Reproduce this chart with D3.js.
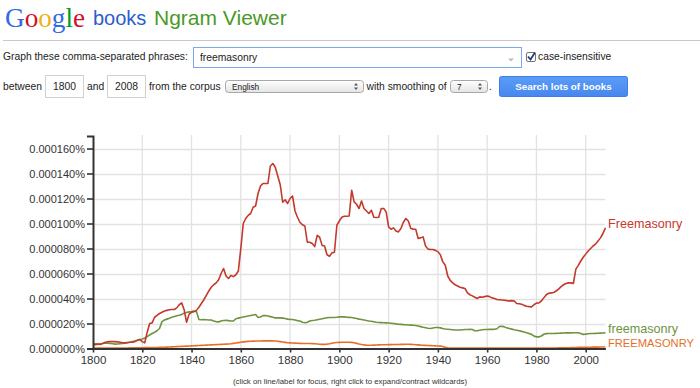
<!DOCTYPE html>
<html><head><meta charset="utf-8">
<script src="https://cdn.jsdelivr.net/npm/d3@7"></script>
<style>
body{margin:0;background:#fff}
svg{display:block;font-family:Arial,"Liberation Sans",Helvetica,sans-serif}
</style></head>
<body><svg id="c" width="700" height="388"></svg>
<script>
// ---------- DATA ----------
const years = d3.range(1800, 2009);            // 1800..2008
const xTickYears = d3.range(1800, 2001, 20);
const yTicks = [0, 20, 40, 60, 80, 100, 120, 140, 160]; // millionths of a percent
const seriesNames = ["Freemasonry", "freemasonry", "FREEMASONRY"];
// values in millionths of a percent (1 = 0.000001%)
const freemasonryCap = [
 3,3,3.5,3.5,4,5,5.3,5.5,5.5,5.5,
 5.3,5,4.6,4.5,4.8,5,5,5.5,6.5,7.2,
 5.5,4.5,13,20,20.5,25,26.5,28,29,30,
 30.5,31,31.2,31.2,32.5,35,36.5,31,21,27.5,
 29,29.5,30.5,33,36,39,42.5,46,49,51,
 52.5,55,60,64,58,56,58.5,57.5,59,62,
 80,100,104,106.5,108,113,114,124,130,132,
 132,132,146,148,145,138,131,117,119,116,
 120,122,110,105,101,99,98,85,85,84,
 81.5,90.5,89,82.5,82,75,73.8,76.5,77,98.6,
 102,105,105.8,105.8,106,126.6,117.3,115.4,112,118,
 112,110,108,110.6,105,104.8,105,112,112,109.3,
 97.3,95.4,96.5,94,93.3,96,101,104,102,96,
 95.5,95.4,88,88.5,89.3,82,79.5,79.2,79.2,78.5,
 77.5,75,69.3,66.6,58,54.5,52.5,51,50,49,
 48.5,48,44.5,43,42.1,41,40,41.3,41,41.5,
 42,41.5,40.5,40,39.2,39,38.8,38.6,38.3,38.1,
 38.3,38,36,35.8,35.4,34.5,33.8,33.5,33.3,35,
 36.3,36.5,38,40.5,43,44.2,44.5,44.8,46,47.5,
 49.5,51,52,52.5,52.5,52,63.5,66.5,70,73,
 75.5,78,80,82,83.5,86,88.5,92,96.5
];
const freemasonryLower = [
 4,3.8,3.5,3.3,4.2,4.4,4.2,4,3.8,3.5,
 3.6,3.8,4,4.3,4.6,5,5.5,6,6.6,7.2,
 7.6,8.3,9.5,10.8,12,13,14.2,16,21.5,22.8,
 23.5,24.2,25,25.6,26.2,26.6,27.2,28.3,28.8,29.3,
 29.5,30,29.5,23.2,23,23.2,23,22.8,22.8,22,
 21.5,21.3,22,22.4,22.6,22.3,22,22,23.8,24.3,
 24.8,25.2,25.6,26,26.4,26.8,27.2,24.8,25.2,26.3,
 26.4,26,25.5,25,24.5,24.5,24.5,24.3,24,23.5,
 23.3,23.2,22.8,22.3,22,21,20.6,21,22,22.4,
 22.6,23,23.4,23.8,24.2,24.6,24.8,24.8,24.8,25,
 25.3,25.4,25.3,25,24.9,24.8,24.4,24,23.5,23.2,
 22.8,22.4,22,21.8,21.4,21,20.8,20.7,20.6,20.5,
 20.4,20.2,20,19.7,19.4,19.3,19.1,19,18.8,18.7,
 18.6,18.4,18,17.5,17,16.6,16.2,16,16.4,16.8,
 16.8,16.5,16,15.6,15.4,15.2,15,14.8,14.8,14.8,
 15,15.2,15.2,15.4,15.2,14.2,14.2,14.6,15,15.2,
 15.2,15.3,15.3,15.4,15.8,17.6,17.8,17.3,16.5,16,
 15.5,15,14.6,14.2,13.7,13.2,12.6,12,11.3,10,
 9.3,9.3,10,11.4,11.9,12,12,12,12.1,12.2,
 12.3,12.4,12.5,12.5,12.5,12.6,12.6,12.6,12,11.3,
 11.5,11.8,12,12,12.1,12.2,12.3,12.4,12.5
];
const freemasonryUpper = [
 0.3,0.3,0.3,0.3,0.3,0.3,0.3,0.3,0.3,0.3,
 0.3,0.3,0.4,0.4,0.4,0.5,0.5,0.5,0.6,0.6,
 0.6,0.7,0.7,0.7,0.8,0.8,0.8,0.9,1,1,
 1.1,1.2,1.3,1.4,1.5,1.6,1.7,1.8,1.9,2,
 2.1,2.2,2.3,2.4,2.5,2.6,2.7,2.8,2.9,3,
 3.1,3.2,3.3,3.4,3.5,3.6,3.8,4.1,4.4,4.7,
 5,5.3,5.5,5.7,5.8,5.9,6,6,6,6.1,
 6.1,6.1,6.1,6.1,6,5.8,5.5,5.2,4.9,4.6,
 4.5,4.4,4.3,4.2,4.1,4,4,4,4,3.9,
 3.8,3.6,3.4,3.3,3.3,3.5,3.8,4.2,4.6,4.8,
 4.9,5,5,5,5,4.9,4.6,4.1,3.6,3.2,
 2.9,2.7,2.6,2.6,2.7,2.8,2.9,3,3,3,
 3.1,3.1,3.2,3.2,3.2,3.3,3.3,3.4,3.4,3.3,
 3.2,3,2.9,2.7,2.6,2.5,2.4,2.3,2.2,2.1,
 2,1.9,1.6,0.9,0.5,0.4,0.3,0.3,0.3,0.3,
 0.3,0.3,0.3,0.3,0.3,0.3,0.3,0.3,0.3,0.3,
 0.3,0.3,0.3,0.3,0.3,0.3,0.3,0.3,0.3,0.3,
 0.3,0.3,0.3,0.3,0.3,0.3,0.3,0.3,0.3,0.3,
 0.3,0.3,0.3,0.3,0.3,0.4,0.4,0.4,0.4,0.5,
 0.5,0.5,0.6,0.6,0.7,0.8,0.8,0.9,0.9,1,
 1,1,1,1.1,1.1,1.1,1.2,1.2,1.2
];
const seriesValues = [freemasonryCap, freemasonryLower, freemasonryUpper];
const seriesColors = ["#c4392b", "#6e9440", "#e56f2a"];
seriesValues.forEach((a,i)=>{ if(a.length!==years.length) throw new Error("len "+i+" "+a.length); });

// ---------- HEADER / FORM ----------
const svg = d3.select("#c");
const logoLetters = [["G","#3369e8"],["o","#d50f25"],["o","#eeb211"],["g","#3369e8"],["l","#009925"],["e","#d50f25"]];
const logo = svg.append("text").attr("x",5).attr("y",27)
  .attr("font-family","'Liberation Serif','DejaVu Serif',serif").attr("font-size",28)
  .attr("textLength",80).attr("lengthAdjust","spacingAndGlyphs");
logoLetters.forEach(([c,col])=>logo.append("tspan").attr("fill",col).text(c));
svg.append("text").attr("x",93).attr("y",25).attr("font-size",20).attr("fill","#2b5dcd").text("books");
svg.append("text").attr("x",154).attr("y",25).attr("font-size",21).attr("fill","#4a9a27").text("Ngram Viewer");
svg.append("line").attr("x1",3).attr("x2",700).attr("y1",40.5).attr("y2",40.5).attr("stroke","#c8c8c8").attr("stroke-width",1.2);

const fs = 10.3;
function txt(x,y,s,opt={}){
  const t = svg.append("text").attr("x",x).attr("y",y).attr("font-size",opt.size||fs).attr("fill",opt.fill||"#222").text(s);
  if(opt.anchor) t.attr("text-anchor",opt.anchor);
  if(opt.weight) t.attr("font-weight",opt.weight);
  return t;
}
txt(3,60,"Graph these comma-separated phrases:");
svg.append("rect").attr("x",193.5).attr("y",47.5).attr("width",328).attr("height",20).attr("fill","#fff").attr("stroke","#7aa7ee").attr("stroke-width",1);
txt(200,61,"freemasonry");
svg.append("path").attr("d","M508,58.5h6l-3,3z").attr("fill","#bbb");
svg.append("rect").attr("x",526.5).attr("y",52.5).attr("width",9).attr("height",9).attr("rx",1.5).attr("fill","#fff").attr("stroke","#777");
svg.append("path").attr("d","M528,56.5l2.5,3l4.5,-7").attr("fill","none").attr("stroke","#1d3f78").attr("stroke-width",1.8);
txt(538,60,"case-insensitive");

txt(3,90,"between");
svg.append("rect").attr("x",45.5).attr("y",75.5).attr("width",38).attr("height",22).attr("fill","#fff").attr("stroke","#d0d0d0");
txt(64.5,90,"1800",{anchor:"middle"});
txt(87,90,"and");
svg.append("rect").attr("x",107.5).attr("y",75.5).attr("width",38).attr("height",22).attr("fill","#fff").attr("stroke","#d0d0d0");
txt(126.5,90,"2008",{anchor:"middle"});
txt(149,90,"from the corpus");
const grad = svg.append("defs").append("linearGradient").attr("id","sel").attr("x1",0).attr("x2",0).attr("y1",0).attr("y2",1);
grad.append("stop").attr("offset",0).attr("stop-color","#ffffff");
grad.append("stop").attr("offset",1).attr("stop-color","#e4e4e4");
const bgrad = svg.select("defs").append("linearGradient").attr("id","btn").attr("x1",0).attr("x2",0).attr("y1",0).attr("y2",1);
bgrad.append("stop").attr("offset",0).attr("stop-color","#5b9cf8");
bgrad.append("stop").attr("offset",1).attr("stop-color","#4787ed");
function select(x,w,label){
  svg.append("rect").attr("x",x+0.5).attr("y",80.5).attr("width",w).attr("height",12).attr("rx",3).attr("fill","url(#sel)").attr("stroke","#a8a8a8");
  txt(x+7,89.5,label,{size:8.3});
  const ax = x+w-7;
  svg.append("path").attr("d",`M${ax-2},85.5h4l-2,-2.5z M${ax-2},87.5h4l-2,2.5z`).attr("fill","#555");
}
select(225,138,"English");
txt(366.5,90,"with smoothing of");
select(450,37,"7");
txt(489,90,".");
svg.append("rect").attr("x",499.5).attr("y",76.5).attr("width",128).attr("height",20).attr("rx",2).attr("fill","url(#btn)").attr("stroke","#3b7de9");
txt(563.5,90,"Search lots of books",{anchor:"middle",fill:"#fff",weight:"bold",size:9.8});

// ---------- CHART ----------
const x = d3.scaleLinear().domain([1800, 2008]).range([93, 605.4]);
const y = d3.scaleLinear().domain([0, 170]).range([348.5, 136]);
const g = svg.append("g");
// grid
g.selectAll(".hg").data(yTicks.slice(1)).join("line")
  .attr("x1",x(1800)).attr("x2",x(2008)).attr("y1",d=>Math.round(y(d))+0.5).attr("y2",d=>Math.round(y(d))+0.5)
  .attr("stroke","#e2e2e2").attr("stroke-width",1.3);
g.selectAll(".vg").data(xTickYears.slice(1)).join("line")
  .attr("x1",d=>x(d)).attr("x2",d=>x(d)).attr("y1",y(170)-1).attr("y2",y(0))
  .attr("stroke","#e2e2e2").attr("stroke-width",1.3);

// lines
const line = d3.line().x((d,i)=>x(years[i])).y(d=>y(d));
const order = [2,1,0];
order.forEach(i=>{
  g.append("path").datum(seriesValues[i]).attr("d",line).attr("fill","none")
   .attr("stroke",seriesColors[i]).attr("stroke-width",1.6).attr("stroke-linejoin","round");
});

// axes
const fmt = v => d3.format(".6f")(v/1e6) + "%";
const yAxis = g.append("g").attr("transform",`translate(${x(1800)},0)`)
  .call(d3.axisLeft(y).tickValues(yTicks).tickFormat(fmt).tickSize(6).tickPadding(2));
const xAxis = g.append("g").attr("transform",`translate(0,${y(0)})`)
  .call(d3.axisBottom(x).tickValues(xTickYears).tickFormat(d3.format("d")).tickSize(4).tickSizeOuter(0).tickPadding(3));
[yAxis,xAxis].forEach(a=>{
  a.select(".domain").attr("stroke","#333").attr("stroke-width",2);
  a.selectAll(".tick line").attr("stroke","#333").attr("stroke-width",1.6);
  a.selectAll("text").attr("fill","#333").attr("font-family","Arial,'Liberation Sans',sans-serif");
});
yAxis.selectAll("text").attr("font-size",11);
xAxis.selectAll("text").attr("font-size",11.5);

// end labels (shrink a label that would run past the right edge)
const labelFont = 12.6, labelMaxW = 86;
seriesNames.forEach((n,i)=>{
  const v = seriesValues[i][seriesValues[i].length-1];
  const t = g.append("text").attr("x",608).attr("y",y(v)).attr("font-size",labelFont).attr("fill",seriesColors[i]).text(n);
  const w = t.node().getComputedTextLength();
  if (w > labelMaxW) t.attr("font-size", labelFont * labelMaxW / w);
});

// caption
txt(350,384,"(click on line/label for focus, right click to expand/contract wildcards)",{anchor:"middle",size:7.8,fill:"#333"});
</script></body></html>
